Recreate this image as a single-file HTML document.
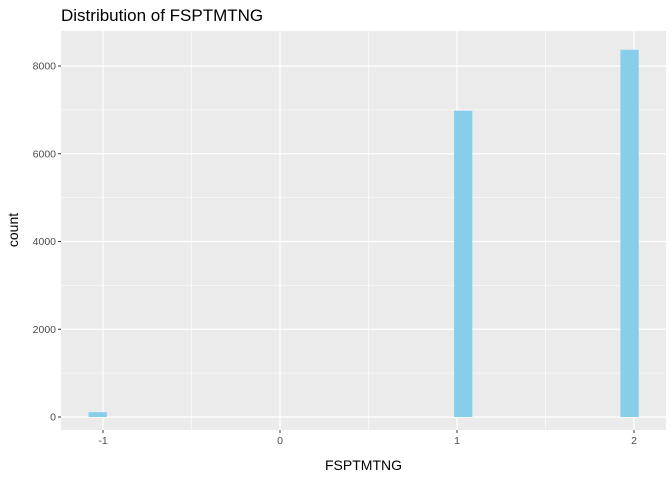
<!DOCTYPE html>
<html><head><meta charset="utf-8"><style>
body{margin:0;background:#fff;font-family:"Liberation Sans",sans-serif;}
</style></head><body>
<svg id="c" width="672" height="480"></svg>
<script>
const binCenters=[-1.03,1.035,1.975];
const counts=[110,6980,8370];
const xTicks=[-1,0,1,2];
const yTicks=[0,2000,4000,6000,8000];
const binWidth=0.1034;
const pl=61,pr=666,pt=31,pb=430;
const X=v=>280+(v-0)*177;
const Y=v=>417-v*(87.75/2000);
const svg=document.getElementById('c');
const NS='http://www.w3.org/2000/svg';
function mk(t,a,p){const e=document.createElementNS(NS,t);for(const k in a)e.setAttribute(k,a[k]);(p||svg).appendChild(e);return e;}
const panel=mk('rect',{x:pl,y:pt,width:pr-pl,height:pb-pt,fill:'#ebebeb'});


for(let i=0;i<xTicks.length-1;i++){const m=(xTicks[i]+xTicks[i+1])/2;const g=mk('line',{x1:X(m),x2:X(m),y1:pt,y2:pb,stroke:'#fff','stroke-width':0.6});}
for(let i=0;i<yTicks.length;i++){const m=yTicks[i]+1000;if(Y(m)>pt){const g=mk('line',{x1:pl,x2:pr,y1:Y(m),y2:Y(m),stroke:'#fff','stroke-width':0.6});}}
xTicks.forEach(v=>{const g=mk('line',{x1:X(v),x2:X(v),y1:pt,y2:pb,stroke:'#fff','stroke-width':1.2});
const t=mk('line',{x1:X(v),x2:X(v),y1:pb,y2:pb+3,stroke:'#333'});
const l=mk('text',{x:X(v),y:pb+14,'text-anchor':'middle','font-size':10.5,fill:'#4d4d4d'});l.textContent=v;});
yTicks.forEach(v=>{const g=mk('line',{x1:pl,x2:pr,y1:Y(v),y2:Y(v),stroke:'#fff','stroke-width':1.2});
const t=mk('line',{x1:pl-3,x2:pl,y1:Y(v),y2:Y(v),stroke:'#333'});
const l=mk('text',{x:pl-5,y:Y(v)+3.5,'text-anchor':'end','font-size':10.5,fill:'#4d4d4d'});l.textContent=v;});
binCenters.forEach((c,i)=>{const b=mk('rect',{x:X(c-binWidth/2),y:Y(counts[i]),width:X(c+binWidth/2)-X(c-binWidth/2),height:Y(0)-Y(counts[i]),fill:'#87ceeb'});

});
const ti=mk('text',{x:61,y:21,'font-size':17,fill:'#000'});ti.textContent='Distribution of FSPTMTNG';
const xl=mk('text',{x:(pl+pr)/2,y:470,'text-anchor':'middle','font-size':14,fill:'#000'});xl.textContent='FSPTMTNG';
const yl=mk('text',{x:0,y:0,'text-anchor':'middle','font-size':14,fill:'#000',transform:'translate(18,230) rotate(-90)'});yl.textContent='count';
</script>
</body></html>
